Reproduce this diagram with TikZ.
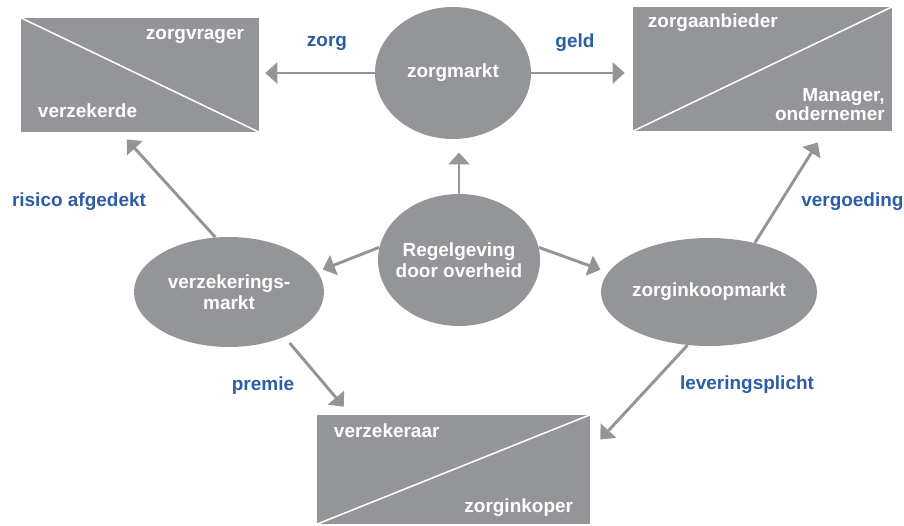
\documentclass[tikz,border=0pt]{standalone}
\usepackage{fontspec}
\setmainfont{Liberation Sans}
\usetikzlibrary{arrows.meta,shapes.geometric}
\definecolor{greyf}{HTML}{939598}
\definecolor{bluet}{HTML}{2C5DA5}

\begin{document}
\begin{tikzpicture}[font=\fontsize{13.5}{15}\selectfont\bfseries\color{white},
    markt/.style={ellipse,fill=greyf,inner sep=0pt,inner xsep=-0.2cm,align=center},
    rol/.style={rectangle,fill=greyf,inner sep=0pt},
    pijl/.style={draw=greyf,line width=2.1pt,-{Triangle[length=0.3cm,width=0.52cm]}},
    lbl/.style={bluet,font=\fontsize{13.5}{15}\selectfont\bfseries}]
    \useasboundingbox (0,0) rectangle (22.6,13.125);
    % rollen
    \node[rol,minimum width=5.95cm,minimum height=2.85cm] (zv) at (3.5,11.25){};
    \node[rol,minimum width=6.475cm,minimum height=3.1cm] (za) at (19.0625,11.4){};
    \node[rol,minimum width=6.825cm,minimum height=2.725cm] (zi) at (11.3375,1.3875){};
    \draw[white,line width=1.1pt] (zv.north west) -- (zv.south east);
    \draw[white,line width=1.1pt] (za.south west) -- (za.north east);
    \draw[white,line width=1.1pt] (zi.south west) -- (zi.north east);
    \node[anchor=base east] (zvr) at (6.225,12.125){zorgvrager};
    \node[anchor=base west] (vzd) at (0.825,10.175){verzekerde};
    \node[anchor=base west] (zab) at (16.075,12.425){zorgaanbieder};
    \node[anchor=north east,inner sep=0pt,align=right,font=\fontsize{13.5}{13.5}\selectfont\bfseries\color{white}] (mgr) at (22.125,10.915){Manager,\\ondernemer};
    \node[anchor=base west] (vzr) at (8.225,2.2){verzekeraar};
    \node[anchor=base east] (zko) at (14.45,0.325){zorginkoper};
    % markten
    \node[markt,minimum width=3.9cm,minimum height=3.3cm] (zm) at (11.325,11.3){zorgmarkt};
    \node[markt,minimum width=4.05cm,minimum height=3.3cm] (reg) at (11.475,6.625){Regelgeving\\door overheid};
    \node[markt,minimum width=4.75cm,minimum height=2.75cm] (vm) at (5.725,5.825){verzekerings-\\markt};
    \node[markt,minimum width=5.4cm,minimum height=2.7cm] (zk) at (17.725,5.825){zorginkoopmarkt};
    % pijlen
    \draw[pijl,shorten >=0.15cm] (zm.west) -- (zm.west -| zv.east);
    \draw[pijl,shorten >=0.2cm] (zm.east) -- (zm.east -| za.west);
    \draw[pijl,shorten >=0.33cm] (reg.north) -- (reg.north |- zm.south);
    \draw[pijl,shorten >=0.14cm] (reg.171) -- (vm.13);
    \draw[pijl,shorten >=0.2cm] (reg.9) -- (zk.169);
    \draw[pijl,shorten >=0.24cm] (vm.104) -- (zv.251);
    \draw[pijl,shorten >=0.33cm] (zk.47) -- (za.315);
    \draw[pijl,shorten <=0.2cm,shorten >=0.26cm] (vm.321) -- (zi.152);
    \draw[pijl,shorten >=0.37cm] (zk.248) -- (zi.8);
    % stromen
    \node[lbl] (zorg) at (8.175,12.05){zorg};
    \node[lbl] (geld) at (14.375,12.05){geld};
    \node[lbl] (risico) at (1.975,8.075){risico afgedekt};
    \node[lbl] (vergoed) at (21.31,8.075){vergoeding};
    \node[lbl] (premie) at (6.575,3.475){premie};
    \node[lbl] (lever) at (18.675,3.5){leveringsplicht};
  \end{tikzpicture}
\end{document}
